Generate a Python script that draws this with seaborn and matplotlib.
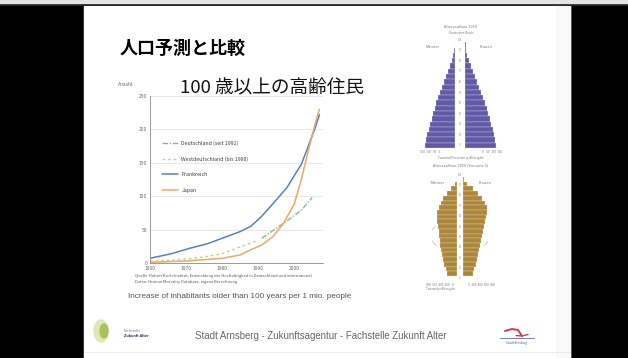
import numpy as np
import pandas as pd
import matplotlib
matplotlib.use("Agg")
import matplotlib.pyplot as plt
from matplotlib.patches import Rectangle, Ellipse
import seaborn as sns

sns.set_theme(style="white")
plt.rcParams['font.family'] = ['Noto Sans CJK JP', 'DejaVu Sans']

# ---------------- data ----------------
title = "人口予測と比較"
subtitle = "100 歳以上の高齢住民"
y_label = "Anzahl"
caption = "Increase of inhabitants older than 100 years per 1 mio. people"
source_lines = ["Quelle: Robert Koch-Institut, Entwicklung der Hochaltrigkeit in Deutschland und international",
                "Daten: Human Mortality Database, eigene Berechnung"]
footer = "Stadt Arnsberg - Zukunftsagentur - Fachstelle Zukunft Alter"

x_ticks = [1960, 1970, 1980, 1990, 2000]
y_ticks = [0, 50, 100, 150, 200, 250]

years_de = [1991, 1994, 1998, 2002, 2005]
vals_de = [37, 48, 63, 79, 98]
years_wde = [1960, 1965, 1970, 1975, 1980, 1985, 1988, 1990]
vals_wde = [3, 4, 6, 9, 14, 24, 30, 34]
years_fr = [1960, 1966, 1971, 1976, 1980, 1985, 1988, 1991, 1994, 1998, 2002, 2004, 2006, 2007]
vals_fr = [7, 14, 22, 29, 37, 47, 55, 70, 88, 113, 148, 176, 205, 222]
years_jp = [1960, 1965, 1970, 1975, 1980, 1985, 1988, 1991, 1994, 1997, 2000, 2002, 2004, 2006, 2007]
vals_jp = [1, 2, 3, 5, 7, 12, 20, 27, 39, 59, 88, 125, 170, 212, 230]

series_names = ["Deutschland (seit 1991)", "Westdeutschland (bis 1990)", "Frankreich", "Japan"]

# population pyramids (5-year age groups, bottom = 0-4, top = 100+)
age_groups = ["0", "5", "10", "15", "20", "25", "30", "35", "40", "45", "50",
              "55", "60", "65", "70", "75", "80", "85", "90", "95", "100"]
pyr1_men = [30, 29, 28, 26.5, 25, 23.5, 22, 20.5, 19, 17, 15, 13, 11, 9, 7, 5, 3, 1.8, 0.9, 0.4, 0.1]
pyr1_women = [31, 30, 29, 27.5, 26, 24.5, 23, 21.5, 19.8, 18, 16, 14, 12, 10, 8, 6, 4, 2.3, 1.2, 0.5, 0.15]
pyr2_men = [10, 11.5, 13, 14, 15, 16, 17, 17.5, 18, 18.5, 19, 20, 20.5, 20, 18, 16, 14, 10, 6, 2.5, 0.5]
pyr2_women = [9.5, 11, 12.5, 13.5, 14.5, 15.5, 16.5, 17.5, 18.5, 19.5, 20.5, 21.5, 23, 24, 23.5, 22, 19, 15, 10, 4, 1]
cmp_men = [np.nan, np.nan, np.nan, np.nan, np.nan, np.nan, 21, 25, 27, 26, 22, np.nan, np.nan, np.nan,
           np.nan, np.nan, np.nan, np.nan, np.nan, np.nan, np.nan]
cmp_women = [np.nan, np.nan, np.nan, np.nan, np.nan, np.nan, 21, 26, 30, 29, 25, np.nan, np.nan, np.nan,
             np.nan, np.nan, np.nan, np.nan, np.nan, np.nan, np.nan]

# ---------------- figure ----------------
W, H = 628, 358
fig = plt.figure(figsize=(W / 100, H / 100), dpi=100)


def px_axes(x0, y0, x1, y1):
    return fig.add_axes([x0 / W, 1 - y1 / H, (x1 - x0) / W, (y1 - y0) / H])


bg = px_axes(0, 0, W, H)
bg.set_xlim(0, W)
bg.set_ylim(H, 0)
bg.axis("off")
bg.add_patch(Rectangle((0, 0), W, H, color="black", zorder=0))
bg.add_patch(Rectangle((0, 0), W, 4, color="#e4e4e4", zorder=1))
bg.add_patch(Rectangle((84, 6), 486, H - 6, color="white", zorder=1))
bg.add_patch(Rectangle((556, 6), 14, H - 6, color="#f9f9f9", zorder=1))
bg.plot([0, W], [5, 5], color="#222222", lw=1.2, zorder=2)
bg.plot([84, 570], [351.5, 351.5], color="#e6e6e6", lw=0.6, zorder=2)

bg.text(120, 48, title, fontsize=13, fontweight="bold", color="black", va="center", ha="left", zorder=3)
bg.text(180, 88, subtitle, fontsize=13.4, color="#111111", va="center", ha="left", zorder=3)
bg.text(118, 84, y_label, fontsize=3.5, color="#666666", va="center", ha="left", zorder=3)
bg.text(135, 276, source_lines[0], fontsize=2.9, color="#555555", va="center", ha="left", zorder=3)
bg.text(135, 281.5, source_lines[1], fontsize=2.9, color="#555555", va="center", ha="left", zorder=3)
bg.text(128, 297, caption, fontsize=5.85, color="#555555", va="center", ha="left",
        family=["Liberation Sans", "DejaVu Sans"], zorder=3)
bg.text(195, 336, footer, fontsize=6.9, color="#666666", va="center", ha="left",
        family=["Liberation Sans", "DejaVu Sans"], zorder=3)

# footer logos
bg.add_patch(Ellipse((101, 331), 14, 22, color="#dfe9b8", zorder=2))
bg.add_patch(Ellipse((104, 331), 8, 14, color="#a9c45a", zorder=3))
bg.text(124, 331, "Fachstelle", fontsize=2.6, color="#667788", va="center", zorder=3)
bg.text(124, 336, "Zukunft Alter", fontsize=2.8, color="#223355", fontweight="bold", va="center", zorder=3)
bg.plot([505, 512, 518, 522], [331, 329, 330, 336], color="#d23a4a", lw=1.4, zorder=3)
bg.plot([516, 522, 528], [335.5, 336, 334.5], color="#d23a4a", lw=1.0, zorder=3)
bg.plot([500, 534], [337.5, 337.5], color="#5a6fa8", lw=0.6, zorder=3)
bg.text(517, 343, "Stadt Arnsberg", fontsize=2.2, color="#4a5a90", ha="center", va="center", zorder=3)

# ---------------- line chart ----------------
ax = px_axes(150, 96, 323, 263)
ax.set_facecolor("none")
sns.lineplot(x=years_de, y=vals_de, ax=ax, color="#86b98a", lw=1.0, label=series_names[0])
sns.lineplot(x=years_wde, y=vals_wde, ax=ax, color="#c8d47a", lw=1.0, label=series_names[1])
sns.lineplot(x=years_fr, y=vals_fr, ax=ax, color="#5580c4", lw=1.1, label=series_names[2])
sns.lineplot(x=years_jp, y=vals_jp, ax=ax, color="#eea865", lw=1.1, label=series_names[3])
ax.lines[0].set_dashes([4, 1.2, 1, 1.2])
ax.lines[1].set_dashes([2, 2])
ax.set_xlim(1960, 2008)
ax.set_ylim(0, 250)
ax.set_xticks(x_ticks)
ax.set_yticks(y_ticks)
ax.tick_params(axis="both", labelsize=3.5, labelcolor="#666666", length=0, pad=2)
ax.yaxis.grid(True, color="#e3e3e3", lw=0.6)
ax.xaxis.grid(False)
for s in ["top", "right"]:
    ax.spines[s].set_visible(False)
for s in ["left", "bottom"]:
    ax.spines[s].set_color("#9a9a9a")
    ax.spines[s].set_linewidth(0.7)
ax.set_xlabel("")
ax.set_ylabel("")
leg = ax.legend(loc="upper left", bbox_to_anchor=(0.06, 0.745), frameon=False, fontsize=3.8,
                handlelength=3.0, labelspacing=1.95, borderaxespad=0, handletextpad=0.6)
for t in leg.get_texts():
    t.set_color("#3a3a3a")
leg.legend_handles[0].set_dashes([4, 1.2, 1, 1.2])
leg.legend_handles[1].set_dashes([2, 2])


# ---------------- pyramids ----------------
def pyramid(men, women, y0, y1, xl0, xc0, xc1, xr1, xmax_l, xmax_r, color, cmp_m=None, cmp_w=None):
    order = age_groups[::-1]
    axl = px_axes(xl0, y0, xc0, y1)
    axr = px_axes(xc1, y0, xr1, y1)
    dfm = pd.DataFrame({"age": age_groups, "val": men})
    dfw = pd.DataFrame({"age": age_groups, "val": women})
    sns.barplot(data=dfm, x="val", y="age", order=order, orient="h", ax=axl, color=color,
                width=1.0, edgecolor="#e8e6f0", linewidth=0.2, saturation=1)
    sns.barplot(data=dfw, x="val", y="age", order=order, orient="h", ax=axr, color=color,
                width=1.0, edgecolor="#e8e6f0", linewidth=0.2, saturation=1)
    axl.set_xlim(xmax_l, 0)
    axr.set_xlim(0, xmax_r)
    if cmp_m is not None:
        pos = np.arange(len(order))
        axl.plot(cmp_m[::-1], pos, color="#b5b5b5", lw=0.5)
        axr.plot(cmp_w[::-1], pos, color="#b5b5b5", lw=0.5)
    for a in (axl, axr):
        a.axis("off")
        a.set_facecolor("none")
    return axl, axr


pyramid(pyr1_men, pyr1_women, 37, 148, 420, 455, 465, 500, 35, 35, "#625aa6")
pyramid(pyr2_men, pyr2_women, 172, 281, 432, 457, 463, 488, 25, 25, "#ad8738",
        cmp_men, cmp_women)

# center column age labels
for i, a in enumerate(age_groups):
    if i % 2 == 0:
        yy = 148 - (i + 0.5) * (111 / 21)
        bg.text(460, yy, a, fontsize=1.8, color="#888888", ha="center", va="center", zorder=3)
        yy2 = 281 - (i + 0.5) * (109 / 21)
        bg.text(460, yy2, a, fontsize=1.8, color="#888888", ha="center", va="center", zorder=3)

small = dict(fontsize=2.8, color="#777777", ha="center", va="center", zorder=3)
bg.text(461, 27, "Altersaufbau 1910", **small)
bg.text(461, 33, "Deutsches Reich", **dict(small, fontsize=2.3))
bg.text(433, 47, "Männer", **small)
bg.text(486, 47, "Frauen", **small)
bg.text(430, 152, "150  100   50    0", **dict(small, fontsize=2.2))
bg.text(492, 152, "0    50   100  150", **dict(small, fontsize=2.2))
bg.text(461, 158, "Tausend Personen je Altersjahr", **dict(small, fontsize=2.3))
bg.text(461, 165, "Altersaufbau 2050 (Variante 1)", **small)
bg.text(438, 183, "Männer", **small)
bg.text(485, 183, "Frauen", **small)
bg.text(440, 285, "800  600  400  200    0", **dict(small, fontsize=2.2))
bg.text(482, 285, "0   200  400  600  800", **dict(small, fontsize=2.2))
bg.text(440, 289, "Tausend je Altersjahr", **dict(small, fontsize=2.2))

fig.savefig("out.png", dpi=100)
